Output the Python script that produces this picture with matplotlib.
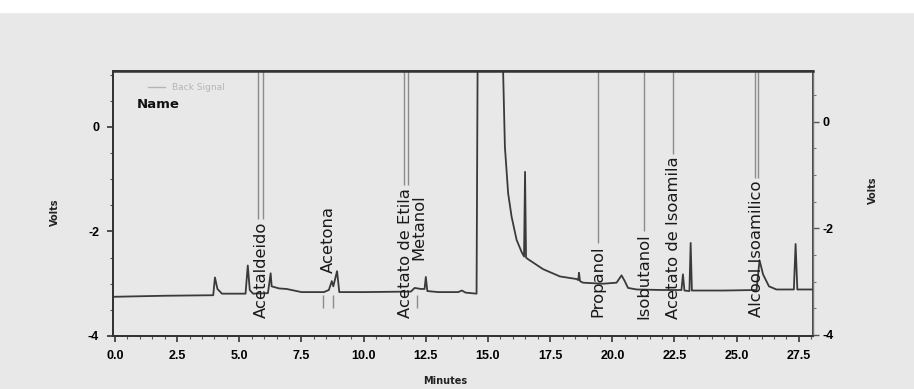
import matplotlib
matplotlib.use("Agg")
import matplotlib.pyplot as plt
from matplotlib.patches import Rectangle
from matplotlib.ticker import MultipleLocator

# chromatogram trace (minutes, volts)
time = [-0.08, 2.0, 3.95, 4.02, 4.12, 4.3, 5.25, 5.34, 5.42, 5.55, 6.15, 6.26,
        6.3, 6.6, 6.9, 7.5, 8.4, 8.6, 8.72, 8.78, 8.93, 9.02, 10.0, 11.9,
        12.05, 12.3, 12.45, 12.5, 12.56, 13.0, 13.8, 13.95, 14.1, 14.54,
        14.6, 15.55, 15.61, 15.68, 15.81, 15.95, 16.15, 16.35, 16.45, 16.49,
        16.53, 16.61, 17.21, 17.89, 18.56, 18.63, 18.66, 18.7, 18.82, 19.62,
        20.17, 20.37, 20.5, 20.63, 20.98, 22.0, 22.78, 22.84, 22.9, 23.1,
        23.15, 23.2, 24.5, 25.8, 25.92, 26.06, 26.3, 26.6, 27.3, 27.37, 27.44,
        28.07]
volts = [-3.25, -3.23, -3.22, -2.88, -3.1, -3.19, -3.19, -2.65, -3.12, -3.19,
         -3.18, -2.8, -3.05, -3.09, -3.1, -3.16, -3.16, -3.12, -2.95, -3.05,
         -2.76, -3.16, -3.16, -3.15, -3.08, -3.1, -3.1, -2.87, -3.14, -3.16,
         -3.16, -3.13, -3.17, -3.19, 3.0, 3.0, 1.03, -0.38, -1.27, -1.72,
         -2.16, -2.39, -2.48, -0.86, -2.5, -2.53, -2.72, -2.86, -2.91, -2.93,
         -2.79, -2.95, -2.98, -3.0, -2.98, -2.84, -2.95, -3.08, -3.11, -3.12,
         -3.12, -2.82, -3.13, -3.14, -2.22, -3.13, -3.13, -3.12, -2.55, -2.82,
         -3.05, -3.11, -3.11, -2.24, -3.11, -3.11]

# compound names and where they were marked
names = ["Acetaldeido", "Acetona", "Acetato de Etila", "Metanol", "Propanol",
         "Isobutanol", "Acetato de Isoamila", "Alcool Isoamilico"]
name_time = [5.9, 8.6, 11.7, 12.24, 19.41, 21.28, 22.45, 25.8]
name_base = [-3.66, -2.8, -3.66, -2.55, -3.64, -3.68, -3.68, -3.64]
mark_time = [[5.76, 5.94], [], [11.62, 11.78], [], [19.41], [21.28], [22.45],
             [25.73, 25.85]]
low_marks = [8.35, 8.75, 12.13]

x_ticks = [0.0, 2.5, 5.0, 7.5, 10.0, 12.5, 15.0, 17.5, 20.0, 22.5, 25.0, 27.5]
y_ticks = [0, -2, -4]


def main():
    fig = plt.figure(figsize=(9.14, 3.89), dpi=100, facecolor="#e8e8e8")
    fig.patches.append(Rectangle((0, 1 - 12 / 389), 1, 12 / 389,
                                 transform=fig.transFigure, color="white"))
    ax = fig.add_axes([113 / 914, 1 - 336 / 389, 700 / 914, 265 / 389])
    ax.set_facecolor("none")
    ax.plot(time, volts, color="#3a3a3a", lw=1.3)
    ax.set_xlim(-0.08, 28.07)
    ax.set_ylim(-4.0, 1.07)

    tick_font = dict(family="Liberation Sans", weight="bold", size=9)
    ax.set_xticks(x_ticks)
    ax.set_xticklabels([f"{t:.1f}" for t in x_ticks], **tick_font)
    ax.set_yticks(y_ticks)
    ax.set_yticklabels([str(t) for t in y_ticks], **tick_font)
    ax.xaxis.set_minor_locator(MultipleLocator(0.5))
    ax.yaxis.set_minor_locator(MultipleLocator(0.5))
    ax.tick_params(which="major", length=4, width=1.2, color="#333333", pad=6)
    ax.tick_params(which="minor", length=2, width=0.8, color="#555555")

    ax2 = ax.twinx()
    ax2.set_ylim(-4.02, 0.95)
    ax2.set_yticks(y_ticks)
    ax2.set_yticklabels([str(t) for t in y_ticks], **tick_font)
    ax2.yaxis.set_minor_locator(MultipleLocator(0.5))
    ax2.tick_params(which="major", length=4, width=1.0, color="#555555", pad=3)
    ax2.tick_params(which="minor", length=2, width=0.8, color="#777777")

    for a in (ax, ax2):
        for s in a.spines.values():
            s.set_color("#333333")
            s.set_linewidth(1.3)
    ax2.spines["top"].set_linewidth(1.8)
    ax2.spines["right"].set_color("#777777")
    ax2.spines["right"].set_linewidth(1.0)

    texts = []
    for n, t, b in zip(names, name_time, name_base):
        texts.append(ax.text(t, b, n, rotation=90, ha="center", va="bottom",
                             family="DejaVu Sans", size=11.8, color="#1a1a1a"))

    fig.canvas.draw()
    r = fig.canvas.get_renderer()
    inv = ax.transData.inverted()
    for txt, marks in zip(texts, mark_time):
        if not marks:
            continue
        top = txt.get_window_extent(r).y1 + 3
        y0 = inv.transform((0, top))[1]
        ax.vlines(marks, y0, 1.07, color="#8c8c8c", lw=1.0)
    ax.vlines(low_marks, -3.46, -3.22, color="#8c8c8c", lw=1.0)

    # legend stub of the original software
    fig.lines.append(plt.Line2D([148 / 914, 165 / 914], [1 - 87 / 389] * 2,
                                transform=fig.transFigure, color="#b5b5b5",
                                lw=1.0))
    fig.text(172 / 914, 1 - 87 / 389, "Back Signal", color="#b5b5b5",
             size=6.5, va="center")
    fig.text(137 / 914, 1 - 104 / 389, "Name", weight="bold", size=9.5,
             va="center", color="#111111")

    fig.text(445 / 914, 1 - 381 / 389, "Minutes", size=7, weight="bold",
             ha="center", va="center", color="#222222")
    fig.text(55 / 914, 1 - 212 / 389, "Volts", size=7, weight="bold",
             rotation=90, ha="center", va="center", color="#222222")
    fig.text(873 / 914, 1 - 190 / 389, "Volts", size=7, weight="bold",
             rotation=90, ha="center", va="center", color="#222222")

    fig.savefig("out.png", dpi=100, facecolor=fig.get_facecolor())


if __name__ == "__main__":
    main()
